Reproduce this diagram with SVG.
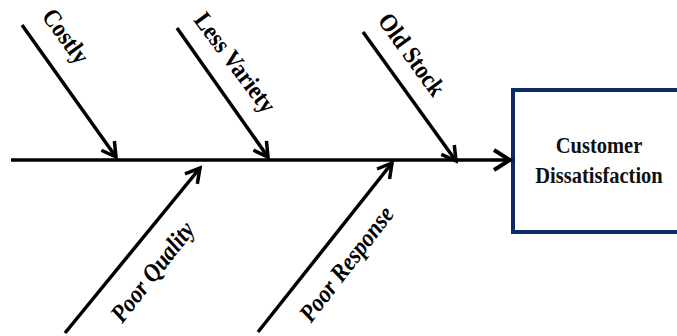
<svg xmlns="http://www.w3.org/2000/svg" width="677" height="336" viewBox="0 0 677 336">
<style>
.ln{stroke:#000;stroke-width:3.5;fill:none;stroke-linecap:butt}
.lab{font-family:"Liberation Serif","Times New Roman",serif;font-weight:bold;font-size:22.5px;fill:#000}
.it{font-style:italic}
.box{fill:#fff;stroke:#0d2a66;stroke-width:4}
.bt{font-family:"Liberation Serif","Times New Roman",serif;font-weight:bold;font-size:20.5px;fill:#111;text-anchor:middle}
</style>
<defs>
<marker id="ah" markerUnits="userSpaceOnUse" markerWidth="40" markerHeight="40" viewBox="-20 -20 40 40" refX="0" refY="0" orient="auto" overflow="visible">
<path d="M-14,-8 L0,0 L-14,8" fill="none" stroke="#000" stroke-width="3.5" stroke-linejoin="miter"/>
</marker>
<marker id="ahb" markerUnits="userSpaceOnUse" markerWidth="40" markerHeight="40" viewBox="-20 -20 40 40" refX="0" refY="0" orient="auto" overflow="visible">
<path d="M-16,-10 L0,0 L-16,10" fill="none" stroke="#000" stroke-width="4" stroke-linejoin="miter"/>
</marker>
</defs>
<rect width="677" height="336" fill="#fff"/>
<g id="effect">
<rect class="box" x="513" y="90" width="170" height="142"/>
<text class="bt" transform="translate(599,153) scale(1,1.17)">Customer</text>
<text class="bt" transform="translate(599,183) scale(1,1.17)">Dissatisfaction</text>
</g>
<g id="connectors">
<line class="ln" x1="11" y1="160" x2="510" y2="160" stroke-width="4" marker-end="url(#ahb)"/>
<line class="ln" x1="22" y1="25" x2="116" y2="157" marker-end="url(#ah)"/>
<line class="ln" x1="177" y1="28" x2="268" y2="157" marker-end="url(#ah)"/>
<line class="ln" x1="363" y1="32" x2="456" y2="161" marker-end="url(#ah)"/>
<line class="ln" x1="65" y1="333" x2="200" y2="168" marker-end="url(#ah)"/>
<line class="ln" x1="258" y1="332" x2="392" y2="163" marker-end="url(#ah)"/>
</g>
<g id="cause-costly"><text class="lab" text-anchor="middle" transform="translate(59,41) rotate(54) scale(1,1.12)">Costly</text></g>
<g id="cause-less-variety"><text class="lab" text-anchor="middle" transform="translate(228.5,67.5) rotate(53) scale(1,1.12)">Less Variety</text></g>
<g id="cause-old-stock"><text class="lab" text-anchor="middle" transform="translate(405,59.5) rotate(54) scale(1,1.12)">Old Stock</text></g>
<g id="cause-poor-quality"><text class="lab it" text-anchor="middle" transform="translate(159,277) rotate(-52) scale(1,1.12)">Poor Quality</text></g>
<g id="cause-poor-response"><text class="lab it" text-anchor="middle" transform="translate(353,269) rotate(-52.5) scale(1,1.12)">Poor Response</text></g>
</svg>
